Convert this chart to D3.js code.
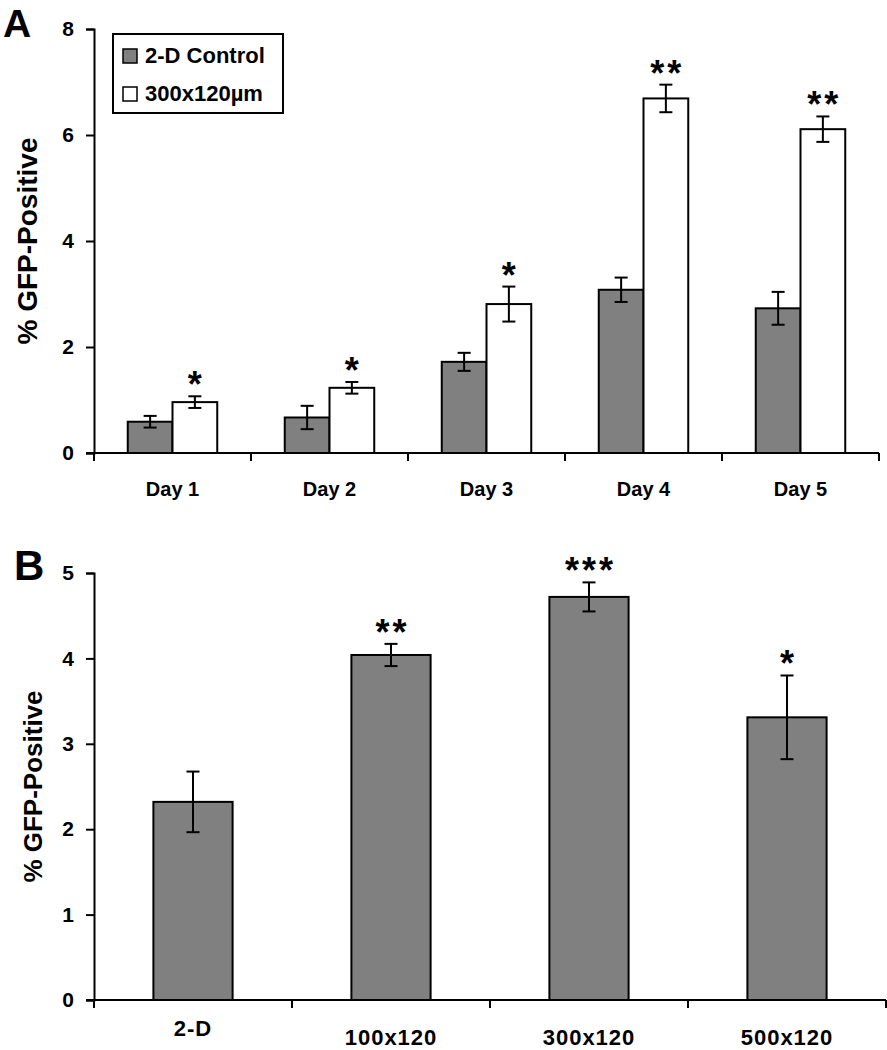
<!DOCTYPE html>
<html>
<head>
<meta charset="utf-8">
<script src="https://cdn.jsdelivr.net/npm/d3@7"></script>
<style>
  body { margin: 0; background: #fff; }
  text { font-family: "Liberation Sans", Arial, sans-serif; font-weight: bold; fill: #000; }
</style>
</head>
<body>
<div id="viz"></div>
<script>
// panel A data
let days = ["Day 1", "Day 2", "Day 3", "Day 4", "Day 5"];
let seriesNames = ["2-D Control", "300x120\u00b5m"];
let controlVals = [0.59, 0.67, 1.72, 3.08, 2.73];
let controlErr = [0.11, 0.22, 0.17, 0.23, 0.31];
let scaffoldVals = [0.96, 1.23, 2.81, 6.69, 6.11];
let scaffoldErr = [0.11, 0.11, 0.33, 0.26, 0.24];
let daySig = ["*", "*", "*", "**", "**"];
let yTicksA = [0, 2, 4, 6, 8];

// panel B data
let sizes = ["2-D", "100x120", "300x120", "500x120"];
let sizeVals = [2.32, 4.04, 4.72, 3.31];
let sizeErr = [0.355, 0.13, 0.17, 0.49];
let sizeSig = ["", "**", "***", "*"];
let yTicksB = [0, 1, 2, 3, 4, 5];

let svgWidth = 887, svgHeight = 1050;
let gray = "#808080";

const svg = d3.select("#viz")
    .append("svg")
    .attr("width", svgWidth)
    .attr("height", svgHeight);

// ---------- panel A ----------
let xA = d3.scaleBand()
    .domain(days)
    .range([94, 879])
    .paddingInner(0.43)
    .paddingOuter(0.215);
let xSub = d3.scaleBand()
    .domain(seriesNames)
    .range([0, xA.bandwidth()]);
let yA = d3.scaleLinear()
    .domain([0, 8])
    .range([453, 29]);

let rowsA = [];
days.forEach((d, i) => {
    rowsA.push({ day: d, s: seriesNames[0], v: controlVals[i], e: controlErr[i], sig: "" });
    rowsA.push({ day: d, s: seriesNames[1], v: scaffoldVals[i], e: scaffoldErr[i], sig: daySig[i] });
});

let gA = svg.append("g");

gA.selectAll("rect.bar")
    .data(rowsA)
    .join("rect")
    .attr("class", "bar")
    .attr("x", d => xA(d.day) + xSub(d.s))
    .attr("y", d => yA(d.v))
    .attr("width", xSub.bandwidth())
    .attr("height", d => yA(0) - yA(d.v))
    .attr("fill", d => d.s == seriesNames[0] ? gray : "#fff")
    .attr("stroke", "#000")
    .attr("stroke-width", 2);

drawErrors(gA, rowsA, d => xA(d.day) + xSub(d.s) + xSub.bandwidth() / 2, yA);
drawStars(gA, rowsA, d => xA(d.day) + xSub(d.s) + xSub.bandwidth() / 2, yA);

// y axis
gA.append("g")
    .attr("transform", "translate(94,0)")
    .call(d3.axisLeft(yA).tickValues(yTicksA).tickFormat(d3.format("d")).tickSize(8).tickPadding(12))
    .call(styleAxis);

// x axis with ticks on category edges
let edgesA = d3.range(days.length + 1).map(i => xA.range()[0] + i * xA.step());
drawXAxis(gA, edgesA, yA(0));

gA.selectAll("text.cat")
    .data(days)
    .join("text")
    .attr("class", "cat")
    .attr("x", d => xA(d) + xA.bandwidth() / 2)
    .attr("y", yA(0) + 43)
    .attr("text-anchor", "middle")
    .style("font-size", "20px")
    .text(d => d);

gA.append("text")
    .attr("transform", "translate(37," + yA(4) + ") rotate(-90)")
    .attr("text-anchor", "middle")
    .style("font-size", "28px")
    .text("% GFP-Positive");

gA.append("text")
    .attr("x", 3)
    .attr("y", 37)
    .style("font-size", "39px")
    .text("A");

// legend
let legend = gA.append("g");
legend.append("rect")
    .attr("x", 113).attr("y", 34)
    .attr("width", 170).attr("height", 79)
    .attr("fill", "#fff")
    .attr("stroke", "#000")
    .attr("stroke-width", 2);
legend.selectAll("rect.key")
    .data(seriesNames)
    .join("rect")
    .attr("class", "key")
    .attr("x", 123)
    .attr("y", (d, i) => 49 + i * 38)
    .attr("width", 14).attr("height", 14)
    .attr("fill", (d, i) => i == 0 ? gray : "#fff")
    .attr("stroke", "#000")
    .attr("stroke-width", 1.5);
legend.selectAll("text")
    .data(seriesNames)
    .join("text")
    .attr("x", 145)
    .attr("y", (d, i) => 63 + i * 38)
    .style("font-size", "22px")
    .text(d => d);

// ---------- panel B ----------
let xB = d3.scaleBand()
    .domain(sizes)
    .range([94, 886])
    .paddingInner(0.6)
    .paddingOuter(0.3);
let yB = d3.scaleLinear()
    .domain([0, 5])
    .range([1000, 573]);

let rowsB = sizes.map((s, i) => ({ s: s, v: sizeVals[i], e: sizeErr[i], sig: sizeSig[i] }));

let gB = svg.append("g");

let edgesB = d3.range(sizes.length + 1).map(i => xB.range()[0] + i * xB.step());
drawXAxis(gB, edgesB, yB(0));

gB.selectAll("rect.bar")
    .data(rowsB)
    .join("rect")
    .attr("class", "bar")
    .attr("x", d => xB(d.s))
    .attr("y", d => yB(d.v))
    .attr("width", xB.bandwidth())
    .attr("height", d => yB(0) - yB(d.v))
    .attr("fill", gray)
    .attr("stroke", "#000")
    .attr("stroke-width", 2);

drawErrors(gB, rowsB, d => xB(d.s) + xB.bandwidth() / 2, yB);
drawStars(gB, rowsB, d => xB(d.s) + xB.bandwidth() / 2, yB);

gB.append("g")
    .attr("transform", "translate(94,0)")
    .call(d3.axisLeft(yB).tickValues(yTicksB).tickFormat(d3.format("d")).tickSize(8).tickPadding(12))
    .call(styleAxis);

gB.selectAll("text.cat")
    .data(sizes)
    .join("text")
    .attr("class", "cat")
    .attr("x", d => xB(d) + xB.bandwidth() / 2)
    .attr("y", (d, i) => yB(0) + (i == 0 ? 36 : 45))
    .attr("text-anchor", "middle")
    .style("font-size", "22px")
    .style("letter-spacing", "1px")
    .text(d => d);

gB.append("text")
    .attr("transform", "translate(42," + yB(2.5) + ") rotate(-90)")
    .attr("text-anchor", "middle")
    .style("font-size", "26px")
    .text("% GFP-Positive");

gB.append("text")
    .attr("x", 14)
    .attr("y", 580)
    .style("font-size", "42px")
    .text("B");

// ---------- helpers ----------
function styleAxis(g) {
    g.select(".domain").attr("stroke", "#000").attr("stroke-width", 2);
    g.selectAll(".tick line").attr("stroke", "#000").attr("stroke-width", 2);
    g.selectAll(".tick text")
        .attr("fill", "#000")
        .style("font-weight", "bold")
        .style("font-size", "21px")
        .style("font-family", "'Liberation Sans', Arial, sans-serif");
}

function drawXAxis(g, edges, y0) {
    g.append("line")
        .attr("x1", edges[0] - 8).attr("x2", edges[edges.length - 1])
        .attr("y1", y0).attr("y2", y0)
        .attr("stroke", "#000").attr("stroke-width", 2);
    g.selectAll("line.xtick")
        .data(edges)
        .join("line")
        .attr("class", "xtick")
        .attr("x1", d => d).attr("x2", d => d)
        .attr("y1", y0).attr("y2", y0 + 8)
        .attr("stroke", "#000").attr("stroke-width", 2);
}

function drawErrors(g, rows, cx, y) {
    let cap = 6.5;
    let eg = g.append("g").attr("stroke", "#000").attr("stroke-width", 2);
    eg.selectAll("line.stem")
        .data(rows).join("line").attr("class", "stem")
        .attr("x1", cx).attr("x2", cx)
        .attr("y1", d => y(d.v + d.e)).attr("y2", d => y(d.v - d.e));
    eg.selectAll("line.capT")
        .data(rows).join("line").attr("class", "capT")
        .attr("x1", d => cx(d) - cap).attr("x2", d => cx(d) + cap)
        .attr("y1", d => y(d.v + d.e)).attr("y2", d => y(d.v + d.e));
    eg.selectAll("line.capB")
        .data(rows).join("line").attr("class", "capB")
        .attr("x1", d => cx(d) - cap).attr("x2", d => cx(d) + cap)
        .attr("y1", d => y(d.v - d.e)).attr("y2", d => y(d.v - d.e));
}

function drawStars(g, rows, cx, y) {
    g.selectAll("text.sig")
        .data(rows.filter(d => d.sig))
        .join("text")
        .attr("class", "sig")
        .attr("x", d => cx(d) + 1.5)
        .attr("y", d => y(d.v + d.e) + 1)
        .attr("text-anchor", "middle")
        .style("font-size", "36px")
        .style("letter-spacing", "3px")
        .text(d => d.sig);
}
</script>
</body>
</html>
